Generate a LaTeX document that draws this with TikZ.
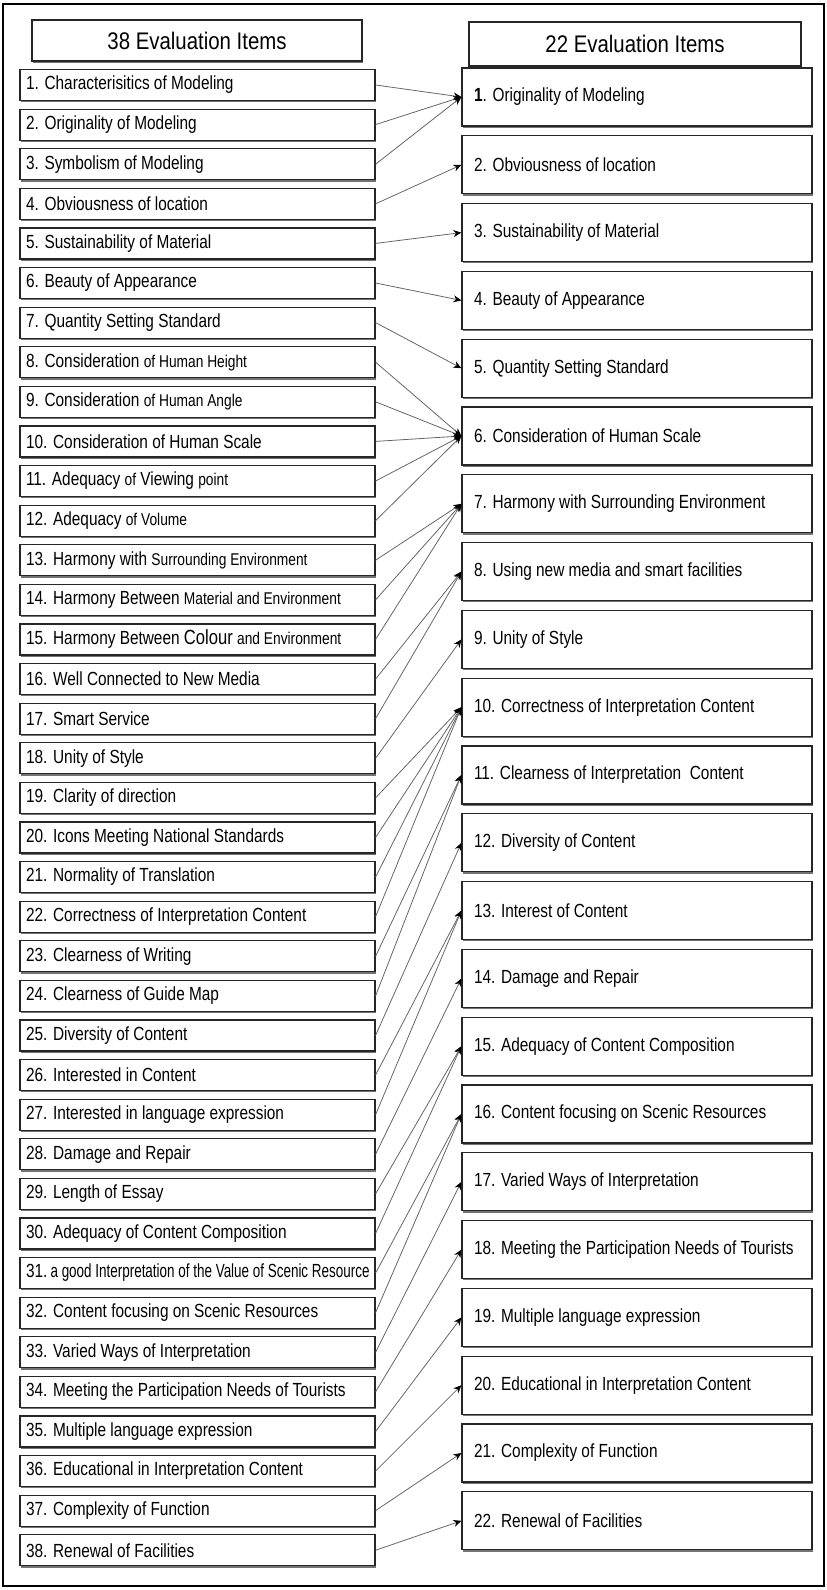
\documentclass[tikz,border=0pt]{standalone}
\usepackage{fontspec}
\setmainfont{Liberation Sans}[FakeStretch=0.81]
\usetikzlibrary{arrows.meta,shadows}
\newcommand\smw[1]{{\fontsize{17}{17}\selectfont #1}}
\newcommand\mkL[1]{\makebox[343pt][l]{#1}}
\newcommand\mkR[1]{\makebox[326pt][l]{#1}}
\begin{document}
\begin{tikzpicture}[x=1pt,y=-1pt,
  bx/.style={draw=black!85, line width=1.2pt, fill=white,
    drop shadow={shadow xshift=0.6pt, shadow yshift=-1.8pt, fill=black!55, opacity=1}},
  lbox/.style={bx, minimum width=355pt, minimum height=31pt, inner xsep=6pt, inner ysep=0pt,
    font=\fontsize{19}{19}\selectfont},
  rbox/.style={bx, minimum width=350pt, minimum height=58pt, inner xsep=12pt, inner ysep=0pt,
    font=\fontsize{19}{19}\selectfont},
  hbox/.style={bx, inner sep=0pt, font=\fontsize{24}{24}\selectfont},
  conn/.style={draw=black!60, line width=0.8pt, -{Stealth[length=8pt,width=7pt,color=black]}}]
\useasboundingbox (0,0) rectangle (827,1590);
\draw[line width=1.3pt] (3,4) rectangle (824,1586);

\node[hbox, minimum width=330pt, minimum height=41pt] (HL) at (197,40.5) {\fontspec{Liberation Sans}[FakeStretch=0.85]38 Evaluation Items};
\node[hbox, minimum width=332pt, minimum height=44pt] (HR) at (635,44) {\fontspec{Liberation Sans}[FakeStretch=0.85]22 Evaluation Items};

\foreach \t [count=\i] in {
  {1. Characterisitics of Modeling},
  {2. Originality of Modeling},
  {3. Symbolism of Modeling},
  {4. Obviousness of location},
  {5. Sustainability of Material},
  {6. Beauty of Appearance},
  {7. Quantity Setting Standard},
  {8. Consideration \smw{of Human Height}},
  {9. Consideration \smw{of Human Angle}},
  {10. Consideration of Human Scale},
  {11. Adequacy \smw{of} Viewing \smw{point}},
  {12. Adequacy \smw{of Volume}},
  {13. Harmony with \smw{Surrounding Environment}},
  {14. Harmony Between \smw{Material and Environment}},
  {15. Harmony Between {\fontsize{20.5}{20.5}\selectfont Colour} \smw{and Environment}},
  {16. Well Connected to New Media},
  {17. Smart Service},
  {18. Unity of Style},
  {19. Clarity of direction},
  {20. Icons Meeting National Standards},
  {21. Normality of Translation},
  {22. Correctness of Interpretation Content},
  {23. Clearness of Writing},
  {24. Clearness of Guide Map},
  {25. Diversity of Content},
  {26. Interested in Content},
  {27. Interested in language expression},
  {28. Damage and Repair},
  {29. Length of Essay},
  {30. Adequacy of Content Composition},
  {31.\,\resizebox{319pt}{\height}{a good Interpretation of the Value of Scenic Resource}},
  {32. Content focusing on Scenic Resources},
  {33. Varied Ways of Interpretation},
  {34. Meeting the Participation Needs of Tourists},
  {35. Multiple language expression},
  {36. Educational in Interpretation Content},
  {37. Complexity of Function},
  {38. Renewal of Facilities}}
  \node[lbox] (L\i) at (197.5,{85+(\i-1)*39.6}) {\mkL{\t}};

\foreach \t [count=\k] in {
  {\textbf{1}. Originality of Modeling},
  {2. Obviousness of location},
  {3. Sustainability of Material},
  {4. Beauty of Appearance},
  {5. Quantity Setting Standard},
  {6. Consideration of Human Scale},
  {7. Harmony with Surrounding Environment},
  {8. Using new media and smart facilities},
  {9. Unity of Style},
  {10. Correctness of Interpretation Content},
  {11. Clearness of Interpretation\ \ Content},
  {12. Diversity of Content},
  {13. Interest of Content},
  {14. Damage and Repair},
  {15. Adequacy of Content Composition},
  {16. Content focusing on Scenic Resources},
  {17. Varied Ways of Interpretation},
  {18. Meeting the Participation Needs of Tourists},
  {19. Multiple language expression},
  {20. Educational in Interpretation Content},
  {21. Complexity of Function},
  {22. Renewal of Facilities}}
  \node[rbox] (R\k) at (637,{97+(\k-1)*67.8}) {\mkR{\t}};

\foreach \a/\b in {1/1,2/1,3/1,4/2,5/3,6/4,7/5,8/6,9/6,10/6,11/6,12/6,13/7,14/7,15/7,
  16/8,17/8,18/9,19/10,20/10,21/10,22/10,23/11,24/11,25/12,26/13,27/13,28/14,29/15,30/15,
  31/16,32/16,33/17,34/18,35/19,36/20,37/21,38/22}
  \draw[conn] (L\a.east) -- (R\b.west);
\end{tikzpicture}
\end{document}
